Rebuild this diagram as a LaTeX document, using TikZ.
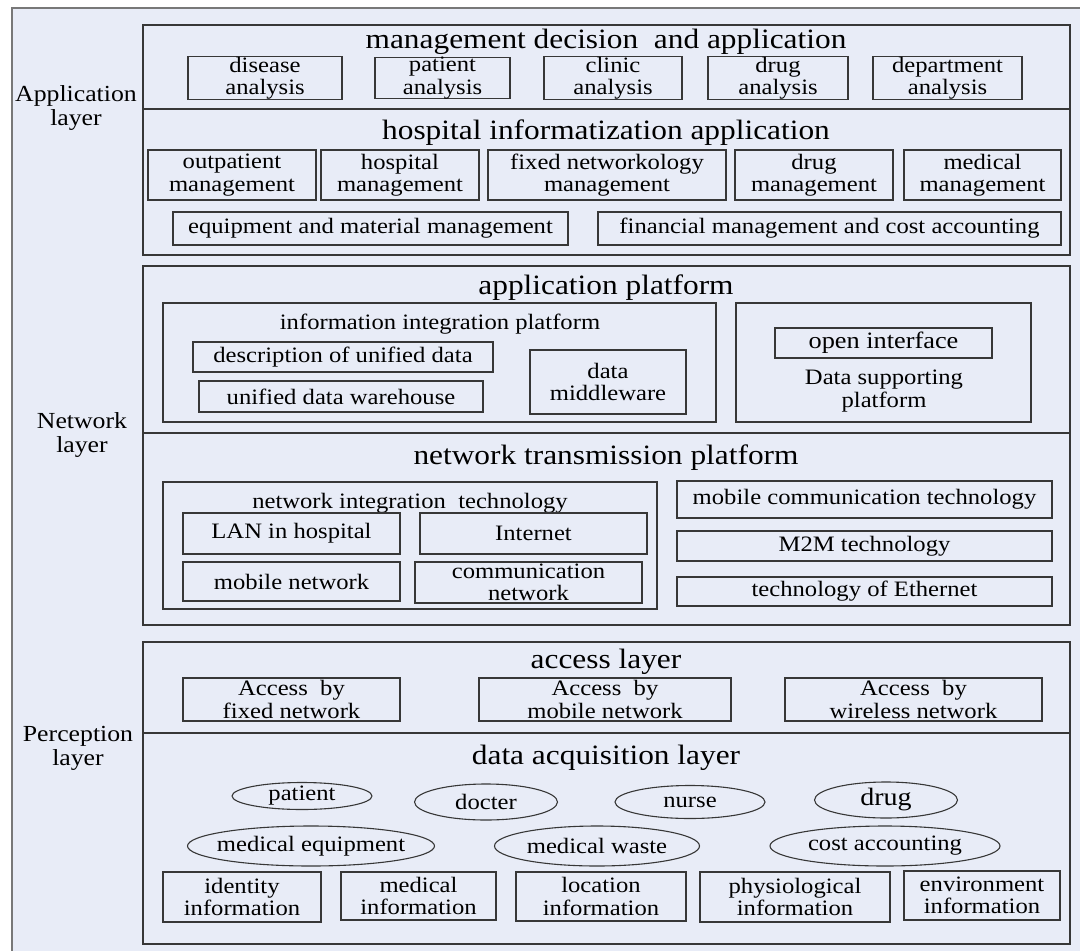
\documentclass[tikz,border=0pt]{standalone}
\usepackage{fontspec}
\setmainfont{Liberation Serif}[FakeStretch=1.12]
\usetikzlibrary{shapes.geometric}
\definecolor{bgc}{RGB}{232,236,247}
\definecolor{ln}{RGB}{55,55,55}
\definecolor{frm}{RGB}{120,120,120}
\newcommand\smf{\fontsize{22}{22.5}\selectfont}
\newcommand\lbf{\fontsize{23}{24}\selectfont}
\newcommand\tlf{\fontsize{28}{30}\selectfont}
\newcommand\bx[6]{\node[box,minimum width={(#4-#2)*1pt},minimum height={(#5-#3)*1pt}] (#1) at ({(#2+#4)/2},{(#3+#5)/2}) {#6};}
\newcommand\sx[5]{\node[sec,minimum width={(#4-#2)*1pt},minimum height={(#5-#3)*1pt}] (#1) at ({(#2+#4)/2},{(#3+#5)/2}) {};}
\newcommand\el[6]{\node[ell,minimum width=#4pt,minimum height=#5pt] (#1) at (#2,#3) {};\node[lbl] (#1t) at (#1) {#6};}
\tikzset{
  box/.style={draw=ln,line width=1.1pt,inner sep=0pt,align=center,font=\smf},
  sec/.style={draw=ln,line width=1.3pt,inner sep=0pt},
  ell/.style={ellipse,draw=ln,line width=1.1pt,inner sep=0pt},
  ttl/.style={font=\tlf,inner sep=0pt},
  lbl/.style={font=\smf,inner sep=0pt,align=center},
  side/.style={font=\lbf,inner sep=0pt,align=center},
  divl/.style={draw=ln,line width=1.3pt}
}
\begin{document}
\begin{tikzpicture}[x=1pt,y=-1pt]
\useasboundingbox (0,0) rectangle (1080,951);
\clip (0,0) rectangle (1080,951);
\fill[white] (0,0) rectangle (1080,951);
\draw[draw=frm,fill=bgc,line width=2pt] (12,8) rectangle (1100,980);

% ---------- application layer ----------
\sx{secA}{143}{25}{1070}{255}
\draw[divl] (143,109) -- (1070,109);
\node[ttl] (tA1) at (606,42) {management decision\ \ and application};
\bx{da}{188}{58}{342}{98}{disease\\analysis}
\bx{pa}{375}{58}{510}{98}{patient\\analysis}
\bx{ca}{544}{58}{682}{98}{clinic\\analysis}
\bx{dra}{708}{58}{848}{98}{drug\\analysis}
\bx{dpa}{873}{58}{1022}{98}{department\\analysis}
\node[ttl] (tA2) at (606,133) {hospital informatization application};
\bx{om}{148}{150}{316}{200}{outpatient\\management}
\bx{hm}{321}{150}{479}{200}{hospital\\management}
\bx{fm}{488}{150}{726}{200}{fixed networkology\\management}
\bx{dm}{735}{150}{893}{200}{drug\\management}
\bx{mm}{904}{150}{1061}{200}{medical\\management}
\bx{em}{173}{212}{568}{245}{equipment and material management}
\bx{fi}{598}{212}{1061}{245}{financial management and cost accounting}

% ---------- network layer ----------
\sx{secN}{143}{266}{1070}{625}
\draw[divl] (143,433) -- (1070,433);
\node[ttl] (tN1) at (606,288) {application platform};
\bx{iip}{163}{303}{716}{422}{}
\node[lbl] (tiip) at (440,324) {information integration platform};
\bx{desc}{193}{342}{493}{372}{description of unified data}
\bx{udw}{199}{381}{483}{412}{unified data warehouse}
\bx{mid}{530}{350}{686}{414}{data\\middleware}
\bx{dsp}{736}{303}{1031}{422}{}
\bx{oi}{775}{328}{992}{358}{\fontsize{23.5}{24}\selectfont open interface}
\node[lbl] (tdsp) at (884,391) {Data supporting\\platform};
\node[ttl] (tN2) at (606,458) {network transmission platform};
\bx{nit}{163}{482}{657}{609}{}
\node[lbl] (tnit) at (410,503) {network integration\ \ technology};
\bx{lan}{183}{513}{400}{554}{LAN in hospital}
\bx{inet}{420}{513}{647}{554}{Internet}
\bx{mnet}{183}{562}{400}{601}{mobile network}
\bx{cnet}{415}{562}{642}{603}{communication\\network}
\bx{mct}{677}{481}{1052}{518}{mobile communication technology}
\bx{m2m}{677}{531}{1052}{561}{M2M technology}
\bx{eth}{677}{577}{1052}{606}{technology of Ethernet}

% ---------- perception layer ----------
\sx{secP}{143}{642}{1070}{944}
\draw[divl] (143,733) -- (1070,733);
\node[ttl] (tP1) at (606,662) {access layer};
\bx{afn}{183}{678}{400}{721}{Access\ \ by\\fixed network}
\bx{amn}{479}{678}{731}{721}{Access\ \ by\\mobile network}
\bx{awn}{785}{678}{1042}{721}{Access\ \ by\\wireless network}
\node[ttl] (tP2) at (606,758) {data acquisition layer};
\el{epat}{302}{796}{140}{27}{patient}
\el{edoc}{486}{802}{143}{36}{docter}
\el{enur}{690}{802}{150}{33}{nurse}
\el{edrug}{886}{800}{143}{36}{\fontsize{25}{26}\selectfont drug}
\el{emeq}{311}{846}{247}{40}{medical equipment}
\el{emw}{597}{846}{205}{40}{medical waste}
\el{eca}{885}{846}{230}{40}{cost accounting}
\bx{idi}{163}{872}{321}{922}{identity\\information}
\bx{mdi}{341}{872}{496}{920}{medical\\information}
\bx{loi}{516}{872}{686}{921}{location\\information}
\bx{phi}{700}{872}{890}{922}{physiological\\information}
\bx{eni}{904}{871}{1060}{920}{environment\\information}

% layer labels (drawn last, they overlap the section border)
\node[side] (lA) at (76,108) {Application\\layer};
\node[side] (lN) at (82,435) {Network\\layer};
\node[side] (lP) at (78,748) {Perception\\layer};
\end{tikzpicture}
\end{document}
